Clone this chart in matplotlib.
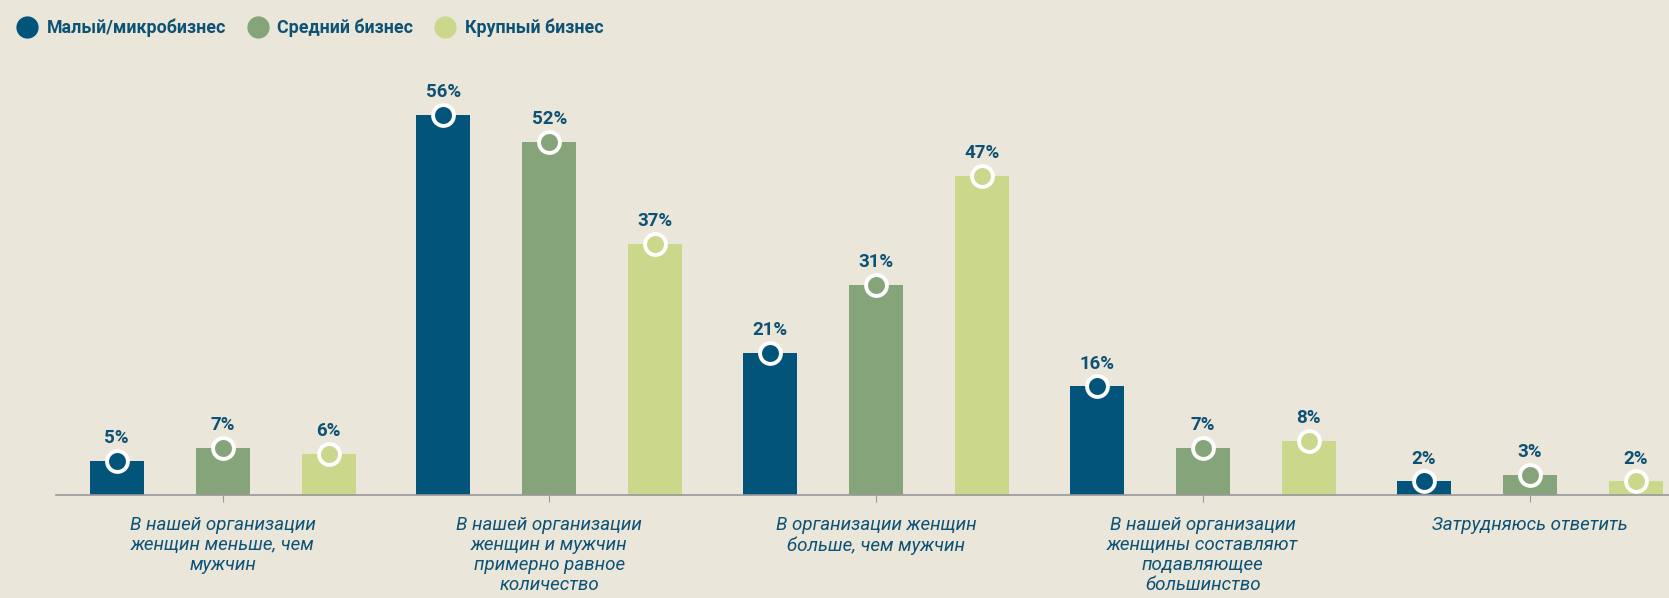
import matplotlib
matplotlib.use("Agg")
import matplotlib.pyplot as plt
from matplotlib.lines import Line2D
import numpy as np

categories = [
    "В нашей организации\nженщин меньше, чем\nмужчин",
    "В нашей организации\nженщин и мужчин\nпримерно равное\nколичество",
    "В организации женщин\nбольше, чем мужчин",
    "В нашей организации\nженщины составляют\nподавляющее\nбольшинство",
    "Затрудняюсь ответить",
]
series_names = ["Малый/микробизнес", "Средний бизнес", "Крупный бизнес"]
small = [5, 56, 21, 16, 2]
medium = [7, 52, 31, 7, 3]
large = [6, 37, 47, 8, 2]
series = [small, medium, large]
colors = ["#02547a", "#86a479", "#cbd78a"]
bg = "#ebe6da"
textc = "#0d5275"

W, H = 1669, 598
fig = plt.figure(figsize=(W/100, H/100), dpi=100, facecolor=bg)
ax_left, ax_right = 56, 1669
ax_bottom = 598 - 495
ax_h = 407
ax = fig.add_axes([ax_left/W, ax_bottom/H, (ax_right-ax_left)/W, ax_h/H])
ax.set_facecolor(bg)

spacing = 326.7
x = np.arange(len(categories))
ax.set_xlim((ax_left-222.7)/spacing, (ax_right-222.7)/spacing)
ax.set_ylim(0, 60)

off = 106/spacing
bw = 54/spacing
for i, (vals, c) in enumerate(zip(series, colors)):
    xs = x + (i-1)*off
    ax.bar(xs, vals, width=bw, color=c, zorder=2)
    ax.plot(xs, vals, 'o', ms=15, mfc=c, mec='white', mew=2.8, zorder=3, clip_on=False)
    for xi, v in zip(xs, vals):
        ax.annotate(f"{v}%", (xi, v), xytext=(0, 10), textcoords='offset points',
                    ha='center', va='bottom', fontsize=13.5, fontweight='bold',
                    family='Roboto', color=textc, zorder=4)

for s in ['top', 'right', 'left']:
    ax.spines[s].set_visible(False)
ax.spines['bottom'].set_color('#999999')
ax.spines['bottom'].set_linewidth(1.2)
ax.set_yticks([])
ax.set_xticks(x)
ax.set_xticklabels(categories, fontsize=13.5, style='italic', family='Roboto',
                   color=textc, linespacing=1.15)
ax.tick_params(axis='x', length=5, color='#999999', pad=10)

handles = [Line2D([], [], marker='o', ls='', ms=15, mfc=c, mec=c) for c in colors]
leg = fig.legend(handles, series_names, loc='upper left', bbox_to_anchor=(-0.002, 0.99),
                 ncol=3, frameon=False, handletextpad=0.1, columnspacing=0.8,
                 borderaxespad=0.3,
                 prop={'family': 'Roboto', 'weight': 'bold', 'size': 12.8})
for t in leg.get_texts():
    t.set_color(textc)

fig.savefig("out.png", dpi=100, facecolor=bg)
